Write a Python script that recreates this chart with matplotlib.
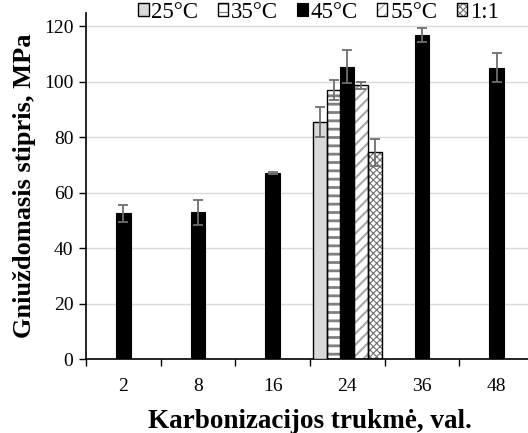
import numpy as np
import matplotlib
matplotlib.use("Agg")
import matplotlib.pyplot as plt

plt.rcParams['font.family'] = ['Liberation Serif', 'DejaVu Serif']

# carbonation time categories (hours)
hours = ['2', '8', '16', '24', '36', '48']

# 45 °C series is measured at every duration
t45 = [52.5, 53.0, 67.0, 105.5, 117.0, 105.0]
t45_err = [3.2, 4.5, 0.4, 6.0, 2.5, 5.2]

# the remaining series only at 24 h
t25, t25_err = 85.5, 5.5
t35, t35_err = 97.0, 3.5
t55, t55_err = 98.7, 1.2
t11, t11_err = 74.5, 5.0

labels = ['25°C', '35°C', '45°C', '55°C', '1:1']

fig = plt.figure(figsize=(5.28, 4.33), dpi=100)
ax = fig.add_axes([86 / 528, 74 / 433, 448 / 528, 346 / 433])

x = np.arange(len(hours))
i24 = hours.index('24')
w = 0.185
err_kw = dict(ecolor='#6e6e6e', elinewidth=1.3, capsize=3.5, capthick=1.3)

def hatched_bar(pos, val, err, hatch, hcol, lw_hatch):
    # hatch drawn in grey underneath, black outline + error bar on top
    plt.rcParams['hatch.linewidth'] = lw_hatch
    fill = ax.bar(pos, val, w, color='white', edgecolor=hcol, hatch=hatch,
                  linewidth=0, zorder=2)
    edge = ax.bar(pos, val, w, color='none', edgecolor='black', linewidth=1.0,
                  zorder=3, yerr=err, error_kw=err_kw)
    return (fill[0], edge[0])

# 24 h group of five bars
offs = (np.arange(5) - 2) * w
h25 = ax.bar(i24 + offs[0], t25, w, color='#d9d9d9', edgecolor='black', linewidth=1.0,
             zorder=3, yerr=t25_err, error_kw=err_kw)
h35 = hatched_bar(i24 + offs[1], t35, t35_err, '--', '#7f7f7f', 2.0)

xs45 = x.astype(float)
xs45[i24] = i24 + offs[2]
ws45 = [0.2 if i != i24 else w for i in range(len(hours))]
h45 = ax.bar(xs45, t45, ws45, color='black', edgecolor='black', linewidth=0.8,
             zorder=3, yerr=t45_err, error_kw=err_kw)

h55 = hatched_bar(i24 + offs[3], t55, t55_err, '///', '#a6a6a6', 1.5)
h11 = hatched_bar(i24 + offs[4], t11, t11_err, 'xxxxx', '#707070', 0.8)

ax.set_xlim(-0.5, 5.5)
ax.set_ylim(0, 124.8)
ax.set_yticks(range(0, 121, 20))
ax.set_xticks(x)
ax.set_xticklabels(hours)
ax.set_xticks(np.arange(-0.5, 5.6, 1), minor=True)
ax.tick_params(axis='x', which='major', length=0, pad=14, labelsize=14)
ax.tick_params(axis='x', which='minor', length=5, width=1, direction='out')
ax.tick_params(axis='y', length=5, width=1, direction='out', labelsize=14, pad=4)

ax.grid(axis='y', color='#d9d9d9', linewidth=1.0, zorder=0)
ax.set_axisbelow(True)
for s in ['top', 'right']:
    ax.spines[s].set_visible(False)
ax.spines['left'].set_linewidth(1.2)
ax.spines['bottom'].set_linewidth(1.2)

ax.set_ylabel('Gniuždomasis stipris, MPa', fontsize=19, fontweight='bold', labelpad=6)
ax.set_xlabel('Karbonizacijos trukmė, val.', fontsize=19.5, fontweight='bold', labelpad=10)

fig.legend([h25[0], h35, h45[0], h55, h11], labels, loc='center',
           bbox_to_anchor=(0.603, 0.972), ncol=5, frameon=False, fontsize=16.5,
           handlelength=0.45, handleheight=0.45, handletextpad=0.12,
           columnspacing=0.85, borderpad=0.1)

fig.savefig('out.png', dpi=100)
